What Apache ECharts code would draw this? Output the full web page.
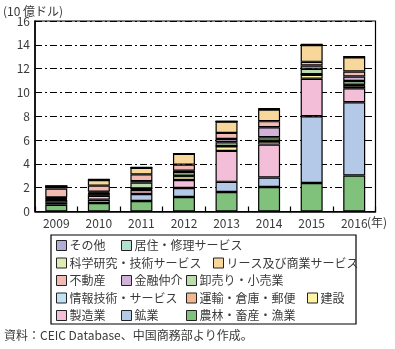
<!DOCTYPE html>
<html>
<head>
<meta charset="utf-8">
<script src="https://cdn.jsdelivr.net/npm/echarts@6/dist/echarts.min.js"></script>
<style>
html,body{margin:0;padding:0;background:#fff;}
#chart{width:395px;height:349px;}
</style>
</head>
<body>
<div id="chart"></div>
<script>
// Years on the category axis
const years = ['2009', '2010', '2011', '2012', '2013', '2014', '2015', '2016'];

// Value-axis ticks (10億ドル)
const yTicks = [0, 2, 4, 6, 8, 10, 12, 14, 16];

// Industry series, bottom of stack first
const agri         = [0.57, 0.71, 0.88, 1.22, 1.64, 2.06, 2.40, 3.02]; // 農林・畜産・漁業
const mining       = [0.17, 0.28, 0.59, 0.76, 0.85, 0.80, 5.60, 6.15]; // 鉱業
const manufacture  = [0.22, 0.32, 0.34, 0.66, 2.60, 2.76, 3.15, 1.18]; // 製造業
const construction = [0.06, 0.15, 0.08, 0.33, 0.38, 0.26, 0.34, 0.22]; // 建設
const transport    = [0.04, 0.04, 0.02, 0.02, 0.02, 0.03, 0.02, 0.04]; // 運輸・倉庫・郵便
const infotech     = [0.03, 0.03, 0.02, 0.02, 0.02, 0.03, 0.02, 0.04]; // 情報技術・サービス
const wholesale    = [0.05, 0.08, 0.50, 0.30, 0.30, 0.29, 0.45, 0.31]; // 卸売り・小売業
const finance      = [0.05, 0.06, 0.12, 0.12, 0.28, 0.85, 0.28, 0.38]; // 金融仲介
const realEstate   = [0.73, 0.50, 0.57, 0.51, 0.51, 0.51, 0.31, 0.42]; // 不動産
const leasing      = [0.20, 0.48, 0.54, 0.90, 0.95, 0.98, 1.42, 1.20]; // リース及び商業サービス
const research     = [0.01, 0.02, 0.02, 0.01, 0.01, 0.03, 0.02, 0.02]; // 科学研究・技術サービス
const residential  = [0.00, 0.01, 0.01, 0.00, 0.01, 0.02, 0.02, 0.02]; // 居住・修理サービス
const others       = [0.00, 0.03, 0.03, 0.00, 0.01, 0.04, 0.03, 0.03]; // その他

const seriesDefs = [
  { name: '農林・畜産・漁業', data: agri, color: '#80c17c' },
  { name: '鉱業', data: mining, color: '#b4c8e8' },
  { name: '製造業', data: manufacture, color: '#f3bfd8' },
  { name: '建設', data: construction, color: '#fff4a6' },
  { name: '運輸・倉庫・郵便', data: transport, color: '#f2b88e' },
  { name: '情報技術・サービス', data: infotech, color: '#bfe3f5' },
  { name: '卸売り・小売業', data: wholesale, color: '#badcae' },
  { name: '金融仲介', data: finance, color: '#d1b2d8' },
  { name: '不動産', data: realEstate, color: '#f2bab2' },
  { name: 'リース及び商業サービス', data: leasing, color: '#f8d79b' },
  { name: '科学研究・技術サービス', data: research, color: '#deebb1' },
  { name: '居住・修理サービス', data: residential, color: '#b3ded2' },
  { name: 'その他', data: others, color: '#afaed6' }
];

const FONT = '"Noto Sans CJK JP", "Noto Sans", sans-serif';
const TXT = '#3a3a3a';

// Legend placement: [name, left, rowCenterY]
const rows = [246.5, 264, 281.5, 299, 316.5];
const legendSlots = [
  ['その他', 56, rows[0]], ['居住・修理サービス', 121, rows[0]],
  ['科学研究・技術サービス', 56, rows[1]], ['リース及び商業サービス', 213, rows[1]],
  ['不動産', 56, rows[2]], ['金融仲介', 121, rows[2]], ['卸売り・小売業', 186, rows[2]],
  ['情報技術・サービス', 56, rows[3]], ['運輸・倉庫・郵便', 186, rows[3]], ['建設', 307, rows[3]],
  ['製造業', 56, rows[4]], ['鉱業', 121, rows[4]], ['農林・畜産・漁業', 186, rows[4]]
];

const legends = legendSlots.map(([name, x, cy]) => ({
  data: [name],
  left: x,
  top: cy - 7,
  padding: 0,
  itemWidth: 10,
  itemHeight: 10,
  icon: 'rect',
  selectedMode: false,
  itemStyle: { borderColor: '#222', borderWidth: 1 },
  textStyle: { fontFamily: FONT, fontSize: 12, color: TXT, padding: [0, 0, 0, -2] }
}));

const chart = echarts.init(document.getElementById('chart'), null, { renderer: 'canvas' });

chart.setOption({
  animation: false,
  backgroundColor: '#fff',
  grid: {
    left: 35, right: 19.5, top: 21, bottom: 137.5,
    show: true, borderColor: '#000', borderWidth: 1.2, backgroundColor: 'transparent'
  },
  legend: legends,
  xAxis: {
    type: 'category',
    data: years,
    axisLine: { lineStyle: { color: '#000', width: 1.5 } },
    axisTick: { show: true, inside: true, length: 5, lineStyle: { color: '#000', width: 1.2 } },
    axisLabel: { fontFamily: FONT, fontSize: 12, color: TXT, margin: 6 }
  },
  yAxis: {
    type: 'value',
    min: yTicks[0],
    max: yTicks[yTicks.length - 1],
    interval: 2,
    axisLine: { show: true, lineStyle: { color: '#000', width: 1.5 } },
    axisTick: { show: false },
    axisLabel: { fontFamily: FONT, fontSize: 12, color: TXT, margin: 5 },
    splitLine: { show: true, lineStyle: { color: '#000', width: 1, type: [7, 3, 2, 3] } }
  },
  series: seriesDefs.map(s => ({
    name: s.name,
    type: 'bar',
    stack: 'total',
    data: s.data,
    barWidth: 22,
    itemStyle: { color: s.color, borderColor: '#000', borderWidth: 1.2 }
  })),
  graphic: [
    { type: 'text', left: 3, top: 5, style: { text: '(10 億ドル)', font: '12px ' + FONT, fill: TXT } },
    { type: 'text', left: 367, top: 216, style: { text: '(年)', font: '12px ' + FONT, fill: TXT } },
    { type: 'rect', shape: { x: 51, y: 235, width: 305, height: 89 }, style: { fill: 'none', stroke: '#000', lineWidth: 1.2 }, z: -1 },
    { type: 'text', left: 4, top: 329, style: { text: '資料：CEIC Database、中国商務部より作成。', font: '12px ' + FONT, fill: TXT } }
  ]
});
</script>
</body>
</html>
